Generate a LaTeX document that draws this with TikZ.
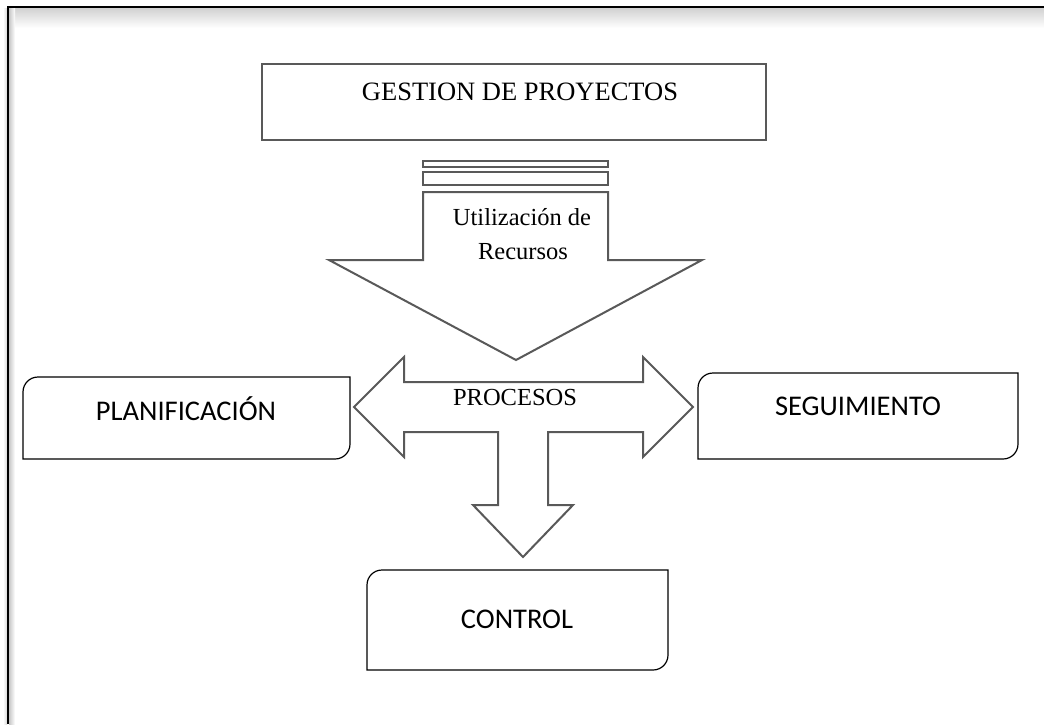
\documentclass[tikz,border=0pt]{standalone}
\usepackage{fontspec}
\setmainfont{Liberation Serif}
\newfontfamily\calib{Carlito}
\definecolor{shapegray}{HTML}{595959}
\tikzset{
  blockline/.style={draw=shapegray, line width=2pt, fill=white, line join=miter},
  stagebox/.style={draw=black, line width=1.2pt, fill=white},
  serifbig/.style={font=\fontsize{24.5}{30}\selectfont, inner sep=0pt, anchor=base},
  calibbig/.style={font=\calib\fontsize{28.5}{34}\selectfont, inner sep=0pt, anchor=base},
}
% box with rounded top-left and bottom-right corners (quarter circles of radius 15)
\newcommand{\stageframe}[4]{% left, top, right, bottom
  \path[stagebox] (#3,#2) -- ({#1+15},#2)
    .. controls ({#1+6.7},#2) and (#1,{#2+6.7}) .. (#1,{#2+15})
    -- (#1,#4) -- ({#3-15},#4)
    .. controls ({#3-6.7},#4) and (#3,{#4-6.7}) .. (#3,{#4-15}) -- cycle;}
\begin{document}
\begin{tikzpicture}[x=1pt,y=-1pt]
\useasboundingbox (0,0) rectangle (1044,724);
\fill[white] (0,0) rectangle (1044,724);

% page frame with soft shadow
\shade[top color=black!18, bottom color=white] (9,8) rectangle (1044,28);
\shade[left color=black!22, right color=white] (9,8) rectangle (15,724);
\shade[left color=white, right color=black!15] (3,8) rectangle (7,724);
\draw[black, line width=2.4pt] (8,724) -- (8,7) -- (1044,7);

% top box
\path[blockline] (262,64) rectangle (766,140);
\node[serifbig, font=\fontsize{26.5}{32}\selectfont] (gestion) at (520,100) {GESTION DE PROYECTOS};

% resource arrow with two bars above it
\path[blockline] (423,161) rectangle (608,167);
\path[blockline] (423,172) rectangle (608,185);
\path[blockline] (423,192) -- (608,192) -- (608,260) -- (702,260) -- (516,360)
  -- (329,260) -- (423,260) -- cycle;
\node[serifbig] (util) at (522,225) {Utilización de};
\node[serifbig] (recursos) at (523,259) {Recursos};

% process cross arrow
\path[blockline] (354,407) -- (404,357) -- (404,382) -- (643,382) -- (643,357)
  -- (693,407) -- (643,457) -- (643,432) -- (548,432) -- (548,505) -- (573,505)
  -- (523,557) -- (473,505) -- (498,505) -- (498,432) -- (404,432) -- (404,457)
  -- cycle;
\node[serifbig] (procesos) at (515,405) {PROCESOS};

% stages
\stageframe{23}{377}{350}{459}
\node[calibbig] (planif) at (186,420) {PLANIFICACIÓN};
\stageframe{698}{373}{1018}{459}
\node[calibbig] (seguim) at (858,415) {SEGUIMIENTO};
\stageframe{367}{570}{668}{670}
\node[calibbig] (control) at (517,628) {CONTROL};
\end{tikzpicture}
\end{document}
